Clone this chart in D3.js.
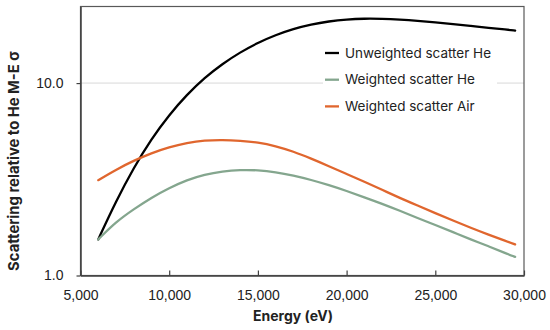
<!DOCTYPE html>
<html>
<head>
<meta charset="utf-8">
<script src="https://cdn.jsdelivr.net/npm/d3@7"></script>
<style>
  body { margin: 0; background: #fff; }
  svg { display: block; font-family: Inter, "Open Sans", sans-serif; }
</style>
</head>
<body>
<svg id="chart" width="550" height="330"></svg>
<script>
// energy grid (eV)
var energy = [6000, 7000, 8000, 9000, 10000, 11000, 12000, 13000, 14000, 15000,
  16000, 17000, 18000, 19000, 20000, 21000, 22000, 23000, 24000, 25000,
  26000, 27000, 28000, 29000, 29500];

// scattering relative to He M-E sigma
var unweightedHe = [1.54, 2.43, 3.63, 5.13, 6.84, 8.71, 10.67, 12.59, 14.45, 16.22,
  17.78, 19.14, 20.18, 20.94, 21.43, 21.63, 21.58, 21.38, 21.09, 20.70,
  20.28, 19.82, 19.36, 18.97, 18.75];
var weightedHe = [1.54, 1.90, 2.21, 2.54, 2.85, 3.14, 3.35, 3.48, 3.54, 3.53,
  3.45, 3.31, 3.14, 2.95, 2.75, 2.55, 2.36, 2.17, 1.99, 1.83,
  1.68, 1.54, 1.42, 1.30, 1.25];
var weightedAir = [3.13, 3.55, 3.95, 4.33, 4.65, 4.89, 5.04, 5.07, 5.02, 4.92,
  4.71, 4.41, 4.05, 3.70, 3.37, 3.07, 2.79, 2.53, 2.31, 2.11,
  1.93, 1.77, 1.63, 1.51, 1.45];

var seriesNames = ["Unweighted scatter He", "Weighted scatter He", "Weighted scatter Air"];
var seriesColors = ["#000000", "#84a68e", "#e0662e"];
var xTicks = [5000, 10000, 15000, 20000, 25000, 30000];
var yTicks = [1, 10];

var series = [unweightedHe, weightedHe, weightedAir].map(function(vals, i) {
  return {
    name: seriesNames[i],
    color: seriesColors[i],
    values: vals.map(function(v, j) { return { e: energy[j], v: v }; })
  };
});

var plotLeft = 80.5, plotRight = 524, plotTop = 6.5, plotBottom = 275.5;

var svg = d3.select("#chart");

var x = d3.scaleLinear().domain([5000, 30000]).range([plotLeft, plotRight]);
var y = d3.scaleLog().domain([1, 25]).range([plotBottom, plotTop]);

// gridline at 10
svg.append("line")
  .attr("x1", plotLeft).attr("x2", plotRight)
  .attr("y1", y(10)).attr("y2", y(10))
  .attr("stroke", "#d9d9d9")
  .attr("stroke-width", 1);

// frame (top and right)
svg.append("rect")
  .attr("x", plotLeft).attr("y", plotTop)
  .attr("width", plotRight - plotLeft).attr("height", plotBottom - plotTop)
  .attr("fill", "none")
  .attr("stroke", "#595959")
  .attr("stroke-width", 1.2);

var line = d3.line()
  .x(function(d) { return x(d.e); })
  .y(function(d) { return y(d.v); })
  .curve(d3.curveBasis);

svg.selectAll(".series")
  .data(series)
  .enter()
  .append("path")
  .attr("class", "series")
  .attr("d", function(d) { return line(d.values); })
  .attr("fill", "none")
  .attr("stroke", function(d) { return d.color; })
  .attr("stroke-width", 2.3)
  .attr("stroke-linecap", "round");

// x axis
var xAxis = svg.append("g")
  .attr("transform", "translate(0," + plotBottom + ")")
  .call(d3.axisBottom(x)
    .tickValues(xTicks)
    .tickFormat(d3.format(","))
    .tickSizeInner(-5)
    .tickSizeOuter(0)
    .tickPadding(15));
xAxis.select(".domain").attr("stroke", "#404040").attr("stroke-width", 1.5);
xAxis.selectAll(".tick line").attr("stroke", "#404040").attr("stroke-width", 1.2);
xAxis.selectAll("text")
  .attr("y", 14.5)
  .attr("fill", "#222")
  .style("font-size", "14px");

// y axis
var yAxis = svg.append("g")
  .attr("transform", "translate(" + plotLeft + ",0)")
  .call(d3.axisLeft(y)
    .tickValues(yTicks)
    .tickFormat(d3.format(".1f"))
    .tickSizeInner(4)
    .tickSizeOuter(0)
    .tickPadding(13));
yAxis.select(".domain").attr("stroke", "#404040").attr("stroke-width", 1.5);
yAxis.selectAll(".tick line").attr("stroke", "#404040").attr("stroke-width", 1.2);
yAxis.selectAll("text")
  .attr("fill", "#222")
  .style("font-size", "14px");

// axis titles
svg.append("text")
  .attr("x", 293)
  .attr("y", 321)
  .attr("text-anchor", "middle")
  .attr("font-weight", "bold")
  .attr("font-size", 14)
  .attr("fill", "#222")
  .text("Energy (eV)");

svg.append("text")
  .attr("transform", "translate(18.5,161) rotate(-90)")
  .attr("text-anchor", "middle")
  .attr("font-weight", "bold")
  .attr("font-size", 14.8)
  .attr("fill", "#222")
  .text("Scattering relative to He M-E σ");

// legend
var legend = svg.append("g");
legend.append("rect")
  .attr("x", 323).attr("y", 38)
  .attr("width", 174).attr("height", 80)
  .attr("fill", "#fff");

var item = legend.selectAll(".item")
  .data(series)
  .enter()
  .append("g")
  .attr("class", "item")
  .attr("transform", function(d, i) { return "translate(325," + (53 + i * 26.7) + ")"; });

item.append("line")
  .attr("x1", 0).attr("x2", 14)
  .attr("stroke", function(d) { return d.color; })
  .attr("stroke-width", 2.3);

item.append("text")
  .attr("x", 20)
  .attr("dy", "0.35em")
  .attr("font-size", 13.5)
  .attr("fill", "#222")
  .text(function(d) { return d.name; });
</script>
</body>
</html>
